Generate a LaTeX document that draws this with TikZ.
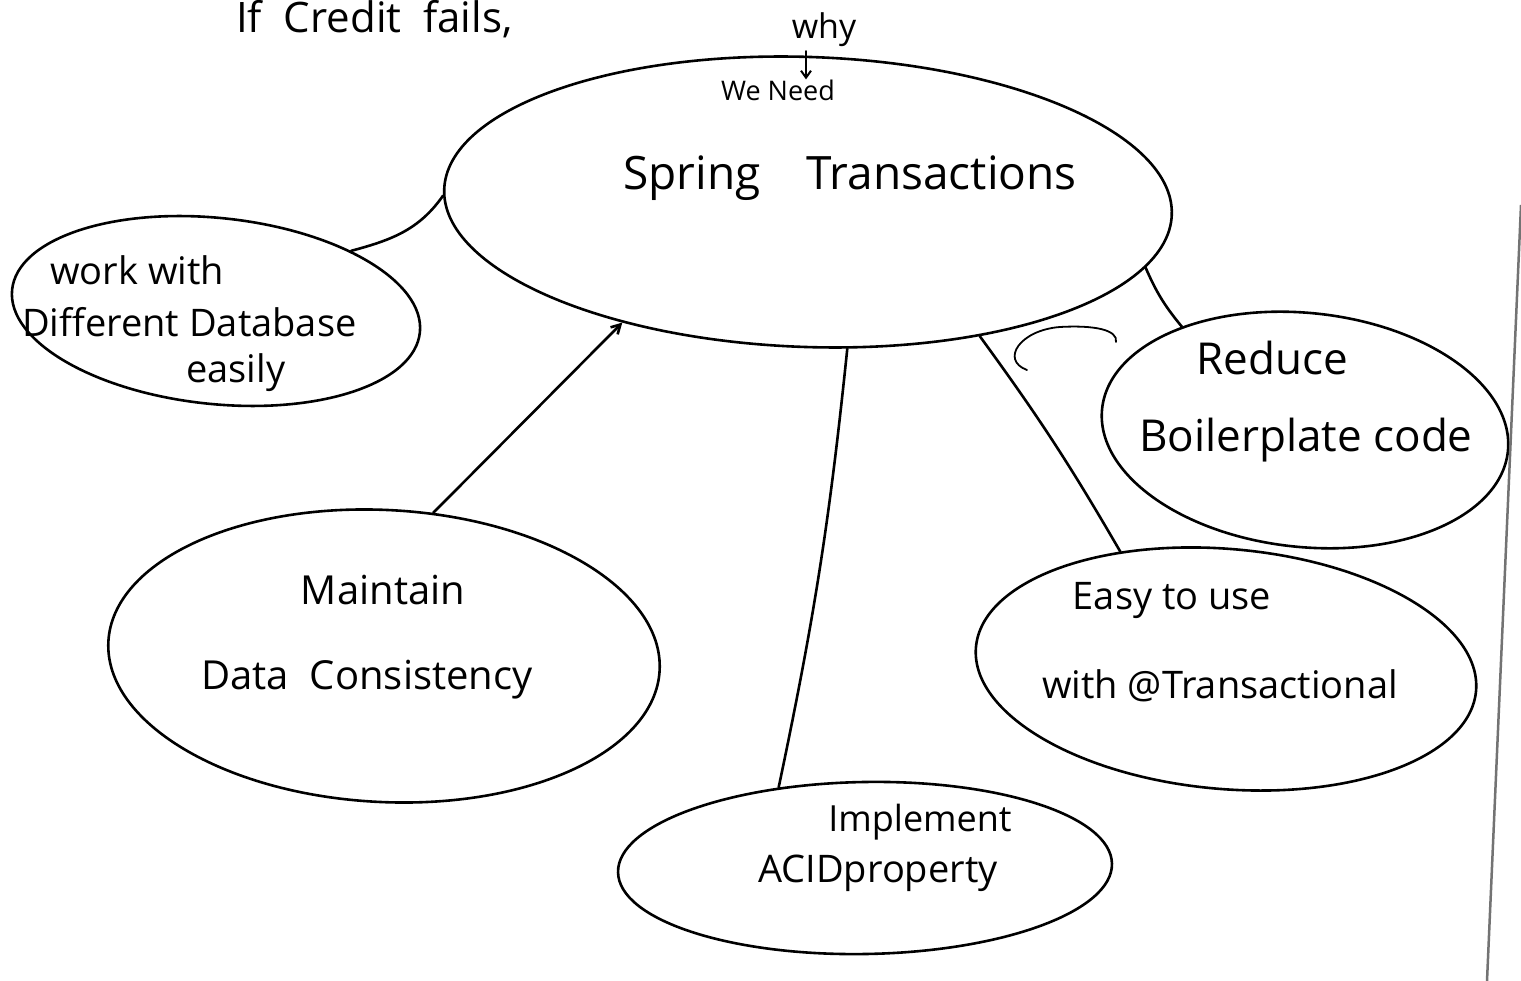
\documentclass[tikz,border=0pt]{standalone}
\usepackage{fontspec}
\setmainfont{Open Sans}
\usetikzlibrary{shapes.geometric,arrows.meta}

\tikzset{
  ink/.style={draw=black, line width=2.6pt, line cap=round},
  bubble/.style={ink, ellipse, inner sep=0pt, fill=none},
  hand/.style={font=\fontsize{#1}{#1}\selectfont, inner sep=0pt, text=black},
  hand/.default=40,
  link/.style={ink},
}

\begin{document}
\begin{tikzpicture}[x=1pt,y=-1pt]
  \clip (0,0) rectangle (1521,981);
  \useasboundingbox (0,0) rectangle (1521,981);
  \fill[white] (0,0) rectangle (1521,981);

  % heading line at the top of the sheet
  \node[hand=42, anchor=base west] (head) at (236,33) {If\ \ Credit\ \ fails,};

  % the bubbles
  \node[bubble, minimum width=728pt, minimum height=290pt, rotate=-2] (core) at (808,202) {};
  \node[bubble, minimum width=410pt, minimum height=186pt, rotate=-6] (db) at (216,311) {};
  \node[bubble, minimum width=552pt, minimum height=292pt, rotate=-3] (cons) at (384,656) {};
  \node[bubble, minimum width=494pt, minimum height=172pt, rotate=1] (acid) at (865,868) {};
  \node[bubble, minimum width=502pt, minimum height=240pt, rotate=-5] (easy) at (1226,669) {};
  \node[bubble, minimum width=408pt, minimum height=234pt, rotate=-6] (boil) at (1305,430) {};

  % labels
  \node[hand=34] (why) at (824,30) {why};
  \node[hand=27] (need) at (778,90) {We Need};
  \draw[ink, line width=2pt, -{Straight Barb[length=7pt,width=10pt]}] (why.south) ++(-18,4) coordinate (w1) -- (w1 |- need.north) coordinate (w2);

  \node[hand=46] (t0) at (850,178) {Spring\quad Transactions};

  \node[hand=38, anchor=west] (t1a) at (50,270) {work with};
  \node[hand=38, anchor=west] (t1b) at (22,322) {Different Database};
  \node[hand=38, anchor=west] (t1c) at (186,373) {easily};

  \node[hand=40] (t2a) at (383,590) {Maintain};
  \node[hand=40] (t2b) at (367,680) {Data\ \ Consistency};

  \node[hand=36] (t3a) at (920,822) {Implement};
  \node[hand=38] (t3b) at (878,873) {ACIDproperty};

  \node[hand=38] (t4a) at (1172,600) {Easy to use};
  \node[hand=38] (t4b) at (1220,686) {with @Transactional};

  \node[hand=44] (t5a) at (1272,358) {Reduce};
  \node[hand=44] (t5b) at (1306,440) {Boilerplate code};

  % connectors
  \draw[link] (core.181) to[out=235,in=15] (db.30);
  \draw[link, -{Straight Barb[length=9pt,width=10pt]}] (cons.74) -- (core.215);
  \draw[link] (core.287) to[bend left=3] (acid.136);
  \draw[link] (core.324) to[bend left=3] (easy.137);
  \draw[link] (core.351) to[bend right=8] (boil.146);

  % small stray loop under the main bubble
  \draw[ink, line width=1.8pt] (1027,370) .. controls (1000,360) and (1020,330) .. (1060,327)
        .. controls (1095,325) and (1118,330) .. (1116,342);

  % edge of the sheet
  \draw[line width=2.5pt, draw=black!55] (1521,205) -- (1487,981);
\end{tikzpicture}
\end{document}
